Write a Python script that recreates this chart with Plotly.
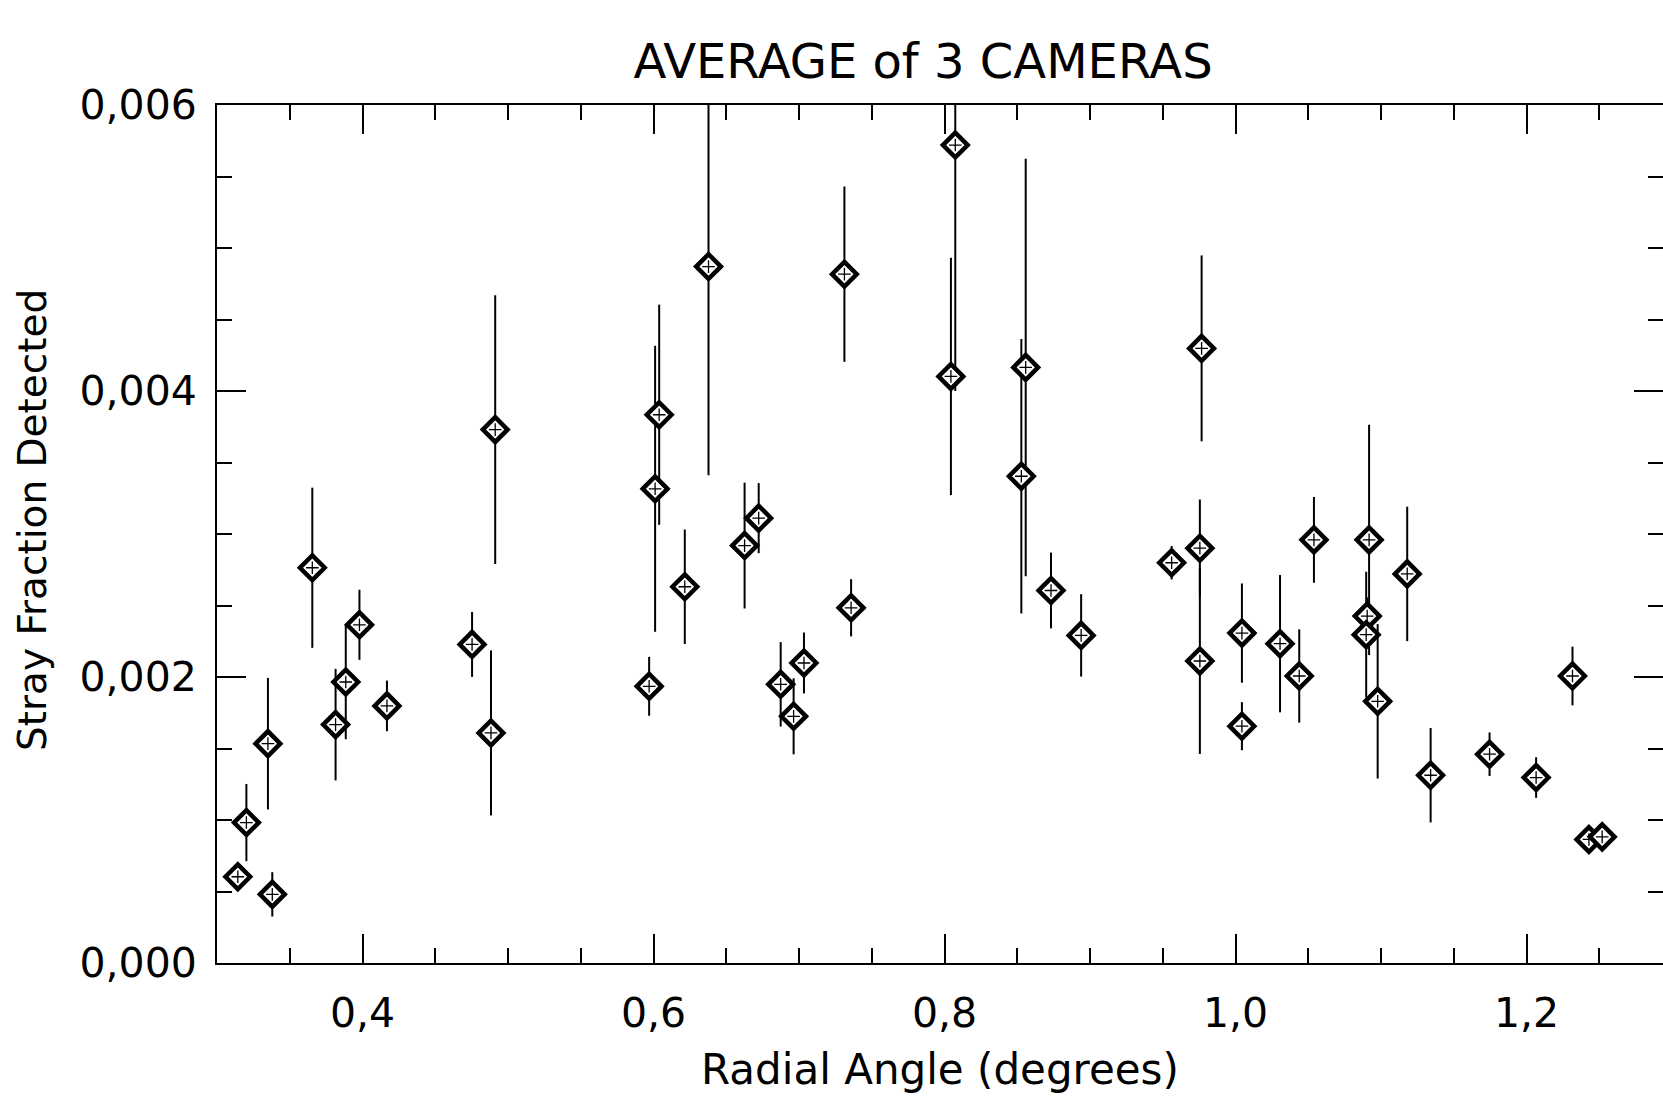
import plotly.graph_objects as go

# Radial angle (degrees)
angle = [0.3143, 0.3202, 0.3350, 0.3380, 0.3655, 0.3815, 0.3885, 0.3979, 0.4168, 0.4753,
         0.4883, 0.4912, 0.5970, 0.6011, 0.6039, 0.6215, 0.6378, 0.6626, 0.6723, 0.6874,
         0.6963, 0.7034, 0.7312, 0.7358, 0.8044, 0.8074, 0.8528, 0.8558, 0.8732, 0.8939,
         0.9561, 0.9755, 0.9755, 0.9767, 1.0044, 1.0044, 1.0306, 1.0438, 1.0539, 1.0918,
         1.0905, 1.0898, 1.0977, 1.1180, 1.1341, 1.1746, 1.2066, 1.2316, 1.2429, 1.2520]

# Stray fraction detected (average of 3 cameras)
stray = [0.000603, 0.000982, 0.001534, 0.000480, 0.002764, 0.001667, 0.001965, 0.002365, 0.001798, 0.002228,
         0.001609, 0.003730, 0.001935, 0.003316, 0.003834, 0.002631, 0.004870, 0.002919, 0.003111, 0.001949,
         0.001725, 0.002098, 0.004817, 0.002484, 0.004102, 0.005720, 0.003404, 0.004165, 0.002605, 0.002291,
         0.002799, 0.002901, 0.002112, 0.004298, 0.002307, 0.001656, 0.002233, 0.002007, 0.002959, 0.002959,
         0.002426, 0.002296, 0.001830, 0.002721, 0.001313, 0.001460, 0.001297, 0.002007, 0.000864, 0.000882]

# Error (+/-)
stray_err = [0.00003, 0.00027, 0.00046, 0.000155, 0.00056, 0.00039, 0.00040, 0.000245, 0.000177, 0.000227,
             0.000577, 0.00094, 0.000206, 0.00100, 0.00077, 0.00040, 0.00146, 0.00044, 0.000245, 0.000295,
             0.000266, 0.000213, 0.000613, 0.00020, 0.00083, 0.00172, 0.00096, 0.00146, 0.000265, 0.000288,
             0.000117, 0.00034, 0.00065, 0.00065, 0.000347, 0.000168, 0.00048, 0.000326, 0.00030, 0.000805,
             0.00013, 0.00044, 0.00054, 0.00047, 0.00033, 0.000152, 0.000142, 0.000205, 0.00003, 0.00003]

x_ticks = [0.4, 0.6, 0.8, 1.0, 1.2]
y_ticks = [0.000, 0.002, 0.004, 0.006]

FONT = "DejaVu Sans, Liberation Sans, sans-serif"

fig = go.Figure()
fig.add_trace(go.Scatter(
    x=angle, y=stray, mode="markers",
    error_y=dict(type="data", array=stray_err, visible=True, color="black", thickness=2, width=0),
    marker=dict(symbol="diamond", size=19, color="white", line=dict(color="black", width=4.5)),
    hoverinfo="x+y",
))
fig.add_trace(go.Scatter(
    x=angle, y=stray, mode="markers", yaxis="y2",
    marker=dict(symbol="cross-thin-open", size=9, color="black", line=dict(color="black", width=1.3)),
    hoverinfo="skip",
))

axis_common = dict(
    showgrid=False, zeroline=False, ticks="inside", ticklen=29, tickwidth=2, tickcolor="black",
)

fig.update_layout(
    width=1663, height=1096,
    margin=dict(l=217, r=0, t=105, b=133),
    paper_bgcolor="white", plot_bgcolor="white",
    separators=",.",
    showlegend=False,
    title=dict(text="AVERAGE of 3 CAMERAS", x=923 / 1663, xref="container", xanchor="center",
               y=1 - 61 / 1096, yref="container", yanchor="middle",
               font=dict(family=FONT, size=48, color="black")),
    xaxis=dict(
        range=[0.3, 1.2938], tickvals=x_ticks, tickformat=".1f",
        showline=True, linecolor="black", linewidth=2, mirror="ticks",
        minor=dict(dtick=0.05, tick0=0.3, ticks="inside", ticklen=15, tickwidth=2, tickcolor="black"),
        tickfont=dict(family=FONT, size=41, color="black"), ticklabelstandoff=13,
        title=dict(text="Radial Angle (degrees)", font=dict(family=FONT, size=42, color="black"), standoff=18),
        **axis_common,
    ),
    yaxis=dict(
        range=[0, 0.006], tickvals=y_ticks, tickformat=".3f",
        showline=True, linecolor="black", linewidth=2, mirror=False,
        minor=dict(dtick=0.0005, tick0=0, ticks="inside", ticklen=15, tickwidth=2, tickcolor="black"),
        tickfont=dict(family=FONT, size=41, color="black"), ticklabelstandoff=10,
        **axis_common,
    ),
    yaxis2=dict(
        range=[0, 0.006], tickvals=y_ticks, overlaying="y", side="right",
        showline=False, showticklabels=False,
        minor=dict(dtick=0.0005, tick0=0, ticks="inside", ticklen=15, tickwidth=2, tickcolor="black"),
        **axis_common,
    ),
    annotations=[dict(
        text="Stray Fraction Detected", textangle=-90, showarrow=False,
        xref="paper", yref="paper", x=(32 - 217) / 1446, y=(963 - 520) / 858,
        xanchor="center", yanchor="middle",
        font=dict(family=FONT, size=39, color="black"),
    )],
)

fig.write_html("out.html")
